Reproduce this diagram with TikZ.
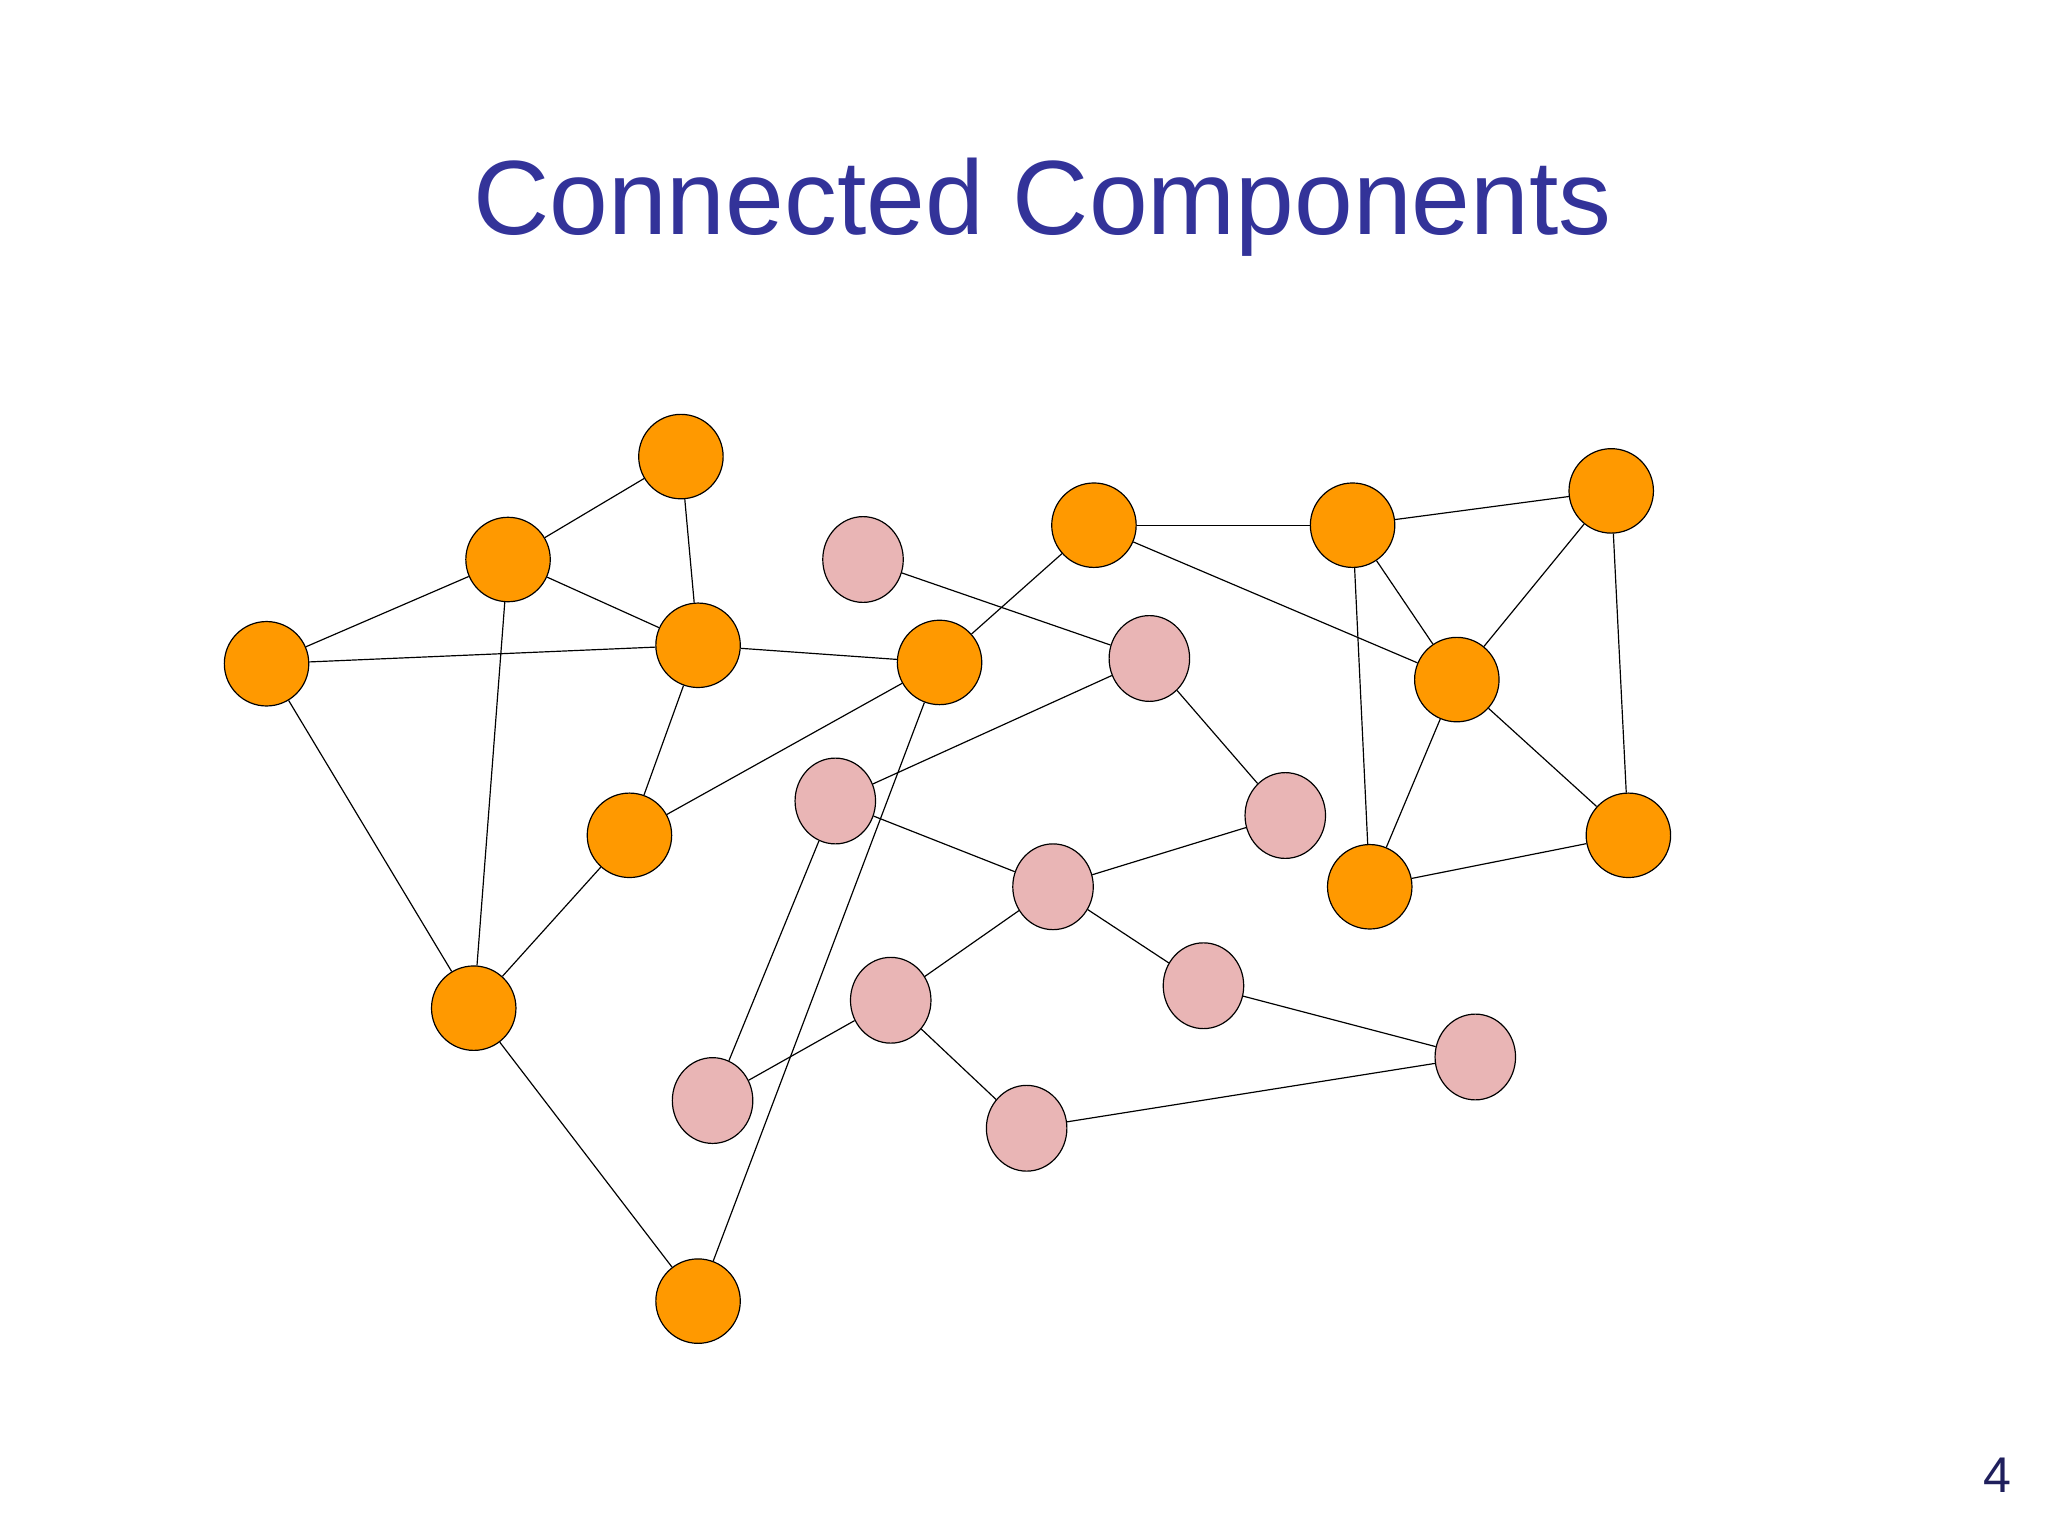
\documentclass[tikz,border=0pt]{standalone}
\usepackage{fontspec}
\setmainfont{Liberation Sans}
\usetikzlibrary{shapes.geometric}
\definecolor{orng}{RGB}{255,153,0}
\definecolor{pnk}{RGB}{233,181,181}
\definecolor{ttl}{RGB}{51,51,153}
\begin{document}
\begin{tikzpicture}[x=1pt,y=-1pt,
 onode/.style={circle,draw=black,fill=orng,line width=0.9pt,minimum size=64pt,inner sep=0pt},
 pnode/.style={ellipse,draw=black,fill=pnk,line width=0.9pt,minimum width=61pt,minimum height=65pt,inner sep=0pt},
 edge/.style={line width=0.9pt}]
\useasboundingbox (0,0) rectangle (1552,1164);
\node[text=ttl,font=\fontsize{80}{90}\selectfont] (title) at (790,157) {Connected Components};
\node[text=ttl!60!black,font=\fontsize{38}{40}\selectfont] (pg) at (1514,1118) {4};
\node[onode] (A) at (516,346) {};
\node[onode] (B) at (385,424) {};
\node[onode] (C) at (202,503) {};
\node[onode] (D) at (529,489) {};
\node[onode] (E) at (712,502) {};
\node[onode] (F) at (477,633) {};
\node[onode] (G) at (359,764) {};
\node[onode] (H) at (529,986) {};
\node[onode] (I) at (829,398) {};
\node[onode] (J) at (1025,398) {};
\node[onode] (K) at (1221,372) {};
\node[onode] (L) at (1104,515) {};
\node[onode] (M) at (1234,633) {};
\node[onode] (N) at (1038,672) {};
\node[pnode] (p1) at (654,424) {};
\node[pnode] (p2) at (871,499) {};
\node[pnode] (p3) at (633,607) {};
\node[pnode] (p4) at (974,618) {};
\node[pnode] (p5) at (798,672) {};
\node[pnode] (p6) at (912,747) {};
\node[pnode] (p7) at (675,758) {};
\node[pnode] (p8) at (540,834) {};
\node[pnode] (p9) at (778,855) {};
\node[pnode] (p10) at (1118,801) {};
\begin{scope}[on background layer/.style={}]
\end{scope}
\foreach \a/\b in {B/A,A/D,B/D,B/C,C/D,D/E,C/G,B/G,D/F,F/G,F/E,E/I,G/H,H/E,I/J,J/K,I/L,J/L,J/N,K/L,K/M,L/M,L/N,N/M,
 p1/p2,p2/p4,p2/p3,p3/p5,p5/p4,p5/p6,p5/p7,p3/p8,p7/p8,p7/p9,p9/p10,p6/p10}
 \draw[edge] (\a) -- (\b);
\end{tikzpicture}
\end{document}
